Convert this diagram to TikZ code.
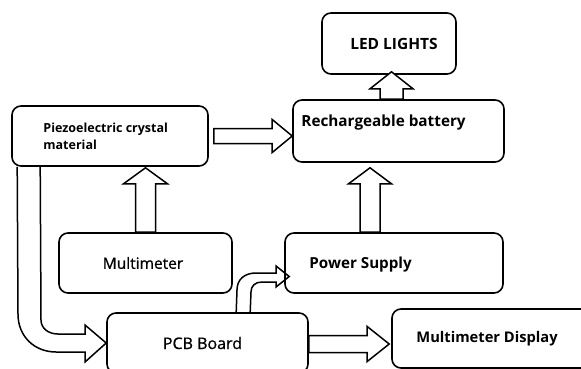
\documentclass[tikz,border=0pt]{standalone}
\usepackage{fontspec}
\setmainfont{Open Sans}
\usetikzlibrary{calc,positioning}
\tikzset{
  box/.style={
    draw,
    line width=1.6pt,
    rounded corners=9pt,
    inner sep=0pt
  },
  lbl/.style={
    anchor=west,
    align=left,
    inner sep=0pt,
    font=\bfseries\fontsize{12.5}{17}\selectfont
  },
  plain/.style={
    font=\fontsize{#1}{17}\selectfont\addfontfeature{FakeBold=0.8}
  },
  fat/.style={
    draw,
    line width=1.5pt,
    line join=miter,
    fill=white
  }
}
% start, tip, shaft half width, head half width, head length
\newcommand{\blockarrow}[5]{%
  \coordinate (ba-h) at ($(#2)!#5!(#1)$);
  \draw[fat] ($(#1)!#3!90:(#2)$) -- ($(ba-h)!#3!90:(#2)$) -- ($(ba-h)!#4!90:(#2)$)
    -- (#2) -- ($(ba-h)!#4!-90:(#2)$) -- ($(ba-h)!#3!-90:(#2)$) -- ($(#1)!#3!-90:(#2)$) -- cycle;}

\begin{document}
\begin{tikzpicture}[x=1pt,y=-1pt]
\useasboundingbox (0,0) rectangle (581,369);
\clip (0,0) rectangle (581,369);

\node[box, minimum width=196pt, minimum height=60pt,
  label={[lbl, xshift=32pt]west:{Piezoelectric crystal\\material}}] (piezo) at (110,136) {};
\node[box, minimum width=211pt, minimum height=62pt,
  label={[lbl, xshift=9pt, yshift=8pt, font=\bfseries\fontsize{15.3}{17}\selectfont]west:Rechargeable battery}] (batt) at (398.5,131) {};
\node[box, minimum width=134pt, minimum height=61pt, font=\bfseries\fontsize{15.5}{17}\selectfont] (led) at (389,43.5) {\hspace*{10pt}LED LIGHTS};
\node[box, minimum width=173pt, minimum height=60pt, plain=15.5] (multi) at (145.5,263) {Multimeter\hspace*{5pt}};
\node[box, minimum width=218pt, minimum height=60pt,
  label={[lbl, xshift=25pt, yshift=-2pt, font=\bfseries\fontsize{15.2}{17}\selectfont]west:Power Supply}] (power) at (394,263) {};
\node[box, minimum width=201pt, minimum height=60pt, plain=16] (pcb) at (207.5,343) {PCB Board\hspace*{10pt}};
\node[box, minimum width=220pt, minimum height=59pt,
  label={[lbl, xshift=25pt, font=\bfseries\fontsize{14.7}{17}\selectfont]west:Multimeter Display}] (md) at (502,338.5) {};

% straight arrows
\coordinate (a1s) at ($(piezo.east)+(5,0)$);
\coordinate (a1t) at (batt.west |- a1s);
\blockarrow{a1s}{a1t}{7.5pt}{16.5pt}{20pt}
\coordinate (a2s) at ($(batt.north)+(-7,0)$);
\coordinate (a2t) at ($(a2s |- led.south)+(0,-3)$);
\blockarrow{a2s}{a2t}{11.5pt}{21.5pt}{17pt}
\coordinate (a3s) at ($(power.north)+(-24,0)$);
\coordinate (a3t) at ($(a3s |- batt.south)+(0,5)$);
\blockarrow{a3s}{a3t}{10pt}{21.5pt}{16pt}
\coordinate (a4s) at (multi.north);
\coordinate (a4t) at ($(a4s |- piezo.south)+(0,1)$);
\blockarrow{a4s}{a4t}{10pt}{22pt}{16pt}
\coordinate (a5s) at ($(pcb.east)+(0,1)$);
\coordinate (a5t) at ($(md.west |- a5s)+(-2,0)$);
\blockarrow{a5s}{a5t}{8.5pt}{17.5pt}{22pt}

% bent arrows
\draw[line width=1.5pt, line join=miter] ($(piezo.south west)+(6,0)$) -- (18,314)
  .. controls (18,337) and (35,352) .. (56,352) -- (85,352) -- (85,362) -- (pcb.west)
  -- (85,325) -- (85,334) -- (58,334) .. controls (48,334) and (41,328) .. (41,320)
  -- ($(piezo.south west)+(29,0)$);
\draw[line width=1.5pt, line join=miter] ($(pcb.north west)+(130,0)$) -- (237,290)
  .. controls (237,279) and (245,273) .. (256,273) -- (276,273) -- (276,266)
  -- ($(power.west)+(5,13.5)$) -- (276,287) -- (276,282) -- (262,282)
  .. controls (255,282) and (251,286) .. (251,292) -- ($(pcb.north west)+(144,0)$);
\end{tikzpicture}
\end{document}
